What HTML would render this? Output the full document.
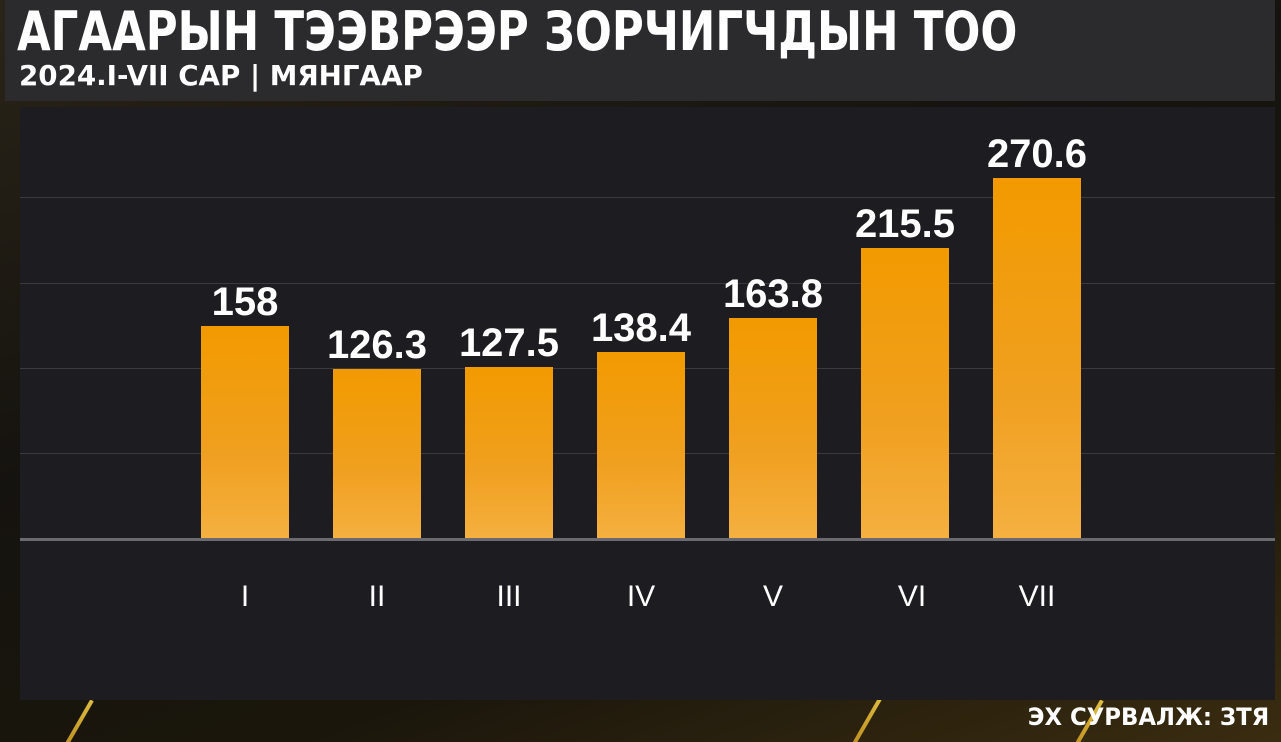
<!DOCTYPE html>
<html><head><meta charset="utf-8"><style>
html,body{margin:0;width:1281px;height:742px;overflow:hidden}
body{background:#141210;position:relative;font-family:"Liberation Sans","DejaVu Sans",sans-serif}
.bg{position:absolute;left:0;top:0;width:1281px;height:742px;overflow:hidden;background:linear-gradient(160deg,#2a2418 0%,#15130f 40%,#1a160c 70%,#3a2c10 100%)}
.streak{position:absolute;width:4px;height:80px;background:linear-gradient(#ffd84a,#c98a10);transform:rotate(30deg);opacity:.85}
.head{position:absolute;left:5px;top:0;width:1270px;height:101px;background:#2b2b2d}
.t1{position:absolute;left:17px;top:0px;color:#fff;font-family:"DejaVu Sans",sans-serif;font-weight:bold;font-size:54px;transform-origin:0 0;transform:scaleX(0.806);white-space:nowrap}
.t2{position:absolute;left:19px;top:59px;color:#fff;font-family:"DejaVu Sans",sans-serif;font-weight:bold;font-size:28px;transform-origin:0 0;transform:scaleX(0.99);white-space:nowrap}
.panel{position:absolute;left:20px;top:107px;width:1255px;height:593px;background:#1c1c21}
.grid{position:absolute;left:20px;width:1255px;height:1px;background:#3a3a40}
.base{position:absolute;left:20px;top:538px;width:1255px;height:3px;background:#6a6a70}
.bar{position:absolute;width:88px;bottom:203px;background:linear-gradient(#f29a00,#f0a020 60%,#f5b040)}
.val{position:absolute;width:160px;text-align:center;color:#fff;font-weight:bold;font-size:40px}
.lab{position:absolute;width:100px;text-align:center;color:#fff;font-size:30px;top:580px}
.src{position:absolute;right:12px;top:703px;color:#fff;font-family:"DejaVu Sans",sans-serif;font-weight:bold;font-size:24px;transform-origin:100% 0;transform:scaleX(0.95)}
</style></head><body>
<div class="bg">
<div class="streak" style="left:860px;top:690px"></div>
<div class="streak" style="left:1080px;top:695px"></div>
<div class="streak" style="left:70px;top:695px"></div>
</div>
<div class="head"></div>
<div class="t1">АГААРЫН ТЭЭВРЭЭР ЗОРЧИГЧДЫН ТОО</div>
<div class="t2">2024.I-VII САР | МЯНГААР</div>
<div class="panel"></div>
<div class="grid" style="top:197px"></div>
<div class="grid" style="top:283px"></div>
<div class="grid" style="top:368px"></div>
<div class="grid" style="top:453px"></div>
<div class="bar" style="left:201px;height:213px"></div>
<div class="bar" style="left:333px;height:170px"></div>
<div class="bar" style="left:465px;height:172px"></div>
<div class="bar" style="left:597px;height:187px"></div>
<div class="bar" style="left:729px;height:221px"></div>
<div class="bar" style="left:861px;height:291px"></div>
<div class="bar" style="left:993px;height:361px"></div>
<div class="base"></div>
<div class="val" style="left:165px;top:280px">158</div>
<div class="val" style="left:297px;top:323px">126.3</div>
<div class="val" style="left:429px;top:321px">127.5</div>
<div class="val" style="left:561px;top:306px">138.4</div>
<div class="val" style="left:693px;top:272px">163.8</div>
<div class="val" style="left:825px;top:202px">215.5</div>
<div class="val" style="left:957px;top:132px">270.6</div>
<div class="lab" style="left:195px">I</div>
<div class="lab" style="left:327px">II</div>
<div class="lab" style="left:459px">III</div>
<div class="lab" style="left:591px">IV</div>
<div class="lab" style="left:723px">V</div>
<div class="lab" style="left:862px">VI</div>
<div class="lab" style="left:987px">VII</div>
<div class="src">ЭХ СУРВАЛЖ: ЗТЯ</div>
</body></html>
